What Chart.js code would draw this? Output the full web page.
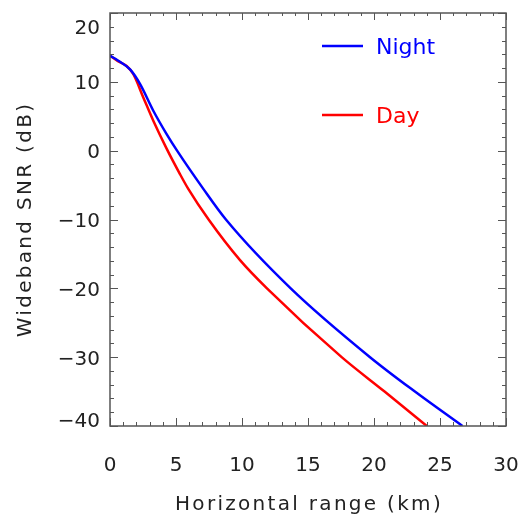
<!DOCTYPE html>
<html>
<head>
<meta charset="utf-8">
<script src="https://cdn.jsdelivr.net/npm/chart.js@4.4.1/dist/chart.umd.min.js"></script>
<style>
  html, body { margin: 0; padding: 0; background: #fff; }
  canvas { display: block; }
</style>
</head>
<body>
<canvas id="snr" width="525" height="516"></canvas>
<script>
// Wideband SNR vs horizontal range
const nightX = [0, 0.6, 1.52, 2.27, 3.28, 4.29, 5.08, 7.07, 8.78, 13.69, 19.7, 23.1, 26.7];
const nightY = [13.8, 13.1, 11.8, 9.7, 5.8, 2.4, 0, -5.55, -10, -20, -30, -35, -40];
const dayX = [0, 0.6, 1.26, 1.77, 2.53, 3.28, 4.29, 5.3, 5.93, 7.47, 9.85, 11.89, 17.55, 20.8, 24.0];
const dayY = [13.8, 13.0, 12.3, 11.1, 7.7, 4.35, 0.3, -3.4, -5.55, -10, -15.9, -20, -30, -35, -40];

const xTicks = [0, 5, 10, 15, 20, 25, 30];
const yTicks = [-40, -30, -20, -10, 0, 10, 20];
const xTickLabels = ['0', '5', '10', '15', '20', '25', '30'];
const yTickLabels = ['\u221240', '\u221230', '\u221220', '\u221210', '0', '10', '20'];

const X_MINOR = 1;
const Y_MINOR = 2;
const AXIS_COLOR = '#555';
const TEXT_COLOR = '#222';
const FONT = '"DejaVu Sans", sans-serif';

const toPoints = (xs, ys) => xs.map((x, i) => ({ x, y: ys[i] }));

// IDL style box: inward ticks on all four sides, labels drawn with the scales
const idlFrame = {
    id: 'idlFrame',
    afterDatasetsDraw(chart) {
        const { ctx, chartArea: a, scales } = chart;
        const sx = scales.x, sy = scales.y;
        ctx.save();
        ctx.strokeStyle = AXIS_COLOR;
        ctx.lineWidth = 1.5;
        ctx.strokeRect(a.left, a.top, a.right - a.left, a.bottom - a.top);

        ctx.beginPath();
        for (let v = sx.min; v <= sx.max; v += X_MINOR) {
            const px = Math.round(sx.getPixelForValue(v)) + 0.5;
            const major = v % 5 === 0;
            ctx.moveTo(px, a.bottom); ctx.lineTo(px, a.bottom - (major ? 8 : 4));
            ctx.moveTo(px, a.top); ctx.lineTo(px, a.top + (major ? 7 : 3));
        }
        for (let v = sy.min; v <= sy.max; v += Y_MINOR) {
            const py = Math.round(sy.getPixelForValue(v)) + 0.5;
            const major = v % 10 === 0;
            ctx.moveTo(a.left, py); ctx.lineTo(a.left + (major ? 8 : 4), py);
            ctx.moveTo(a.right, py); ctx.lineTo(a.right - (major ? 8 : 4), py);
        }
        ctx.lineWidth = 1;
        ctx.stroke();

        ctx.fillStyle = TEXT_COLOR;
        ctx.font = '20px ' + FONT;
        ctx.textBaseline = 'alphabetic';
        ctx.textAlign = 'center';
        xTicks.forEach((v, i) => {
            ctx.fillText(xTickLabels[i], sx.getPixelForValue(v), a.bottom + 45);
        });
        ctx.textAlign = 'right';
        yTicks.forEach((v, i) => {
            let py = sy.getPixelForValue(v);
            if (v === sy.max) py += 13;
            if (v === sy.min) py -= 7;
            ctx.fillText(yTickLabels[i], a.left - 10, py + 7.5);
        });

        // axis titles
        ctx.letterSpacing = '2.3px';
        ctx.textAlign = 'center';
        ctx.fillText('Horizontal range (km)', (a.left + a.right) / 2 + 1, 510);
        ctx.save();
        ctx.translate(31, (a.top + a.bottom) / 2);
        ctx.rotate(-Math.PI / 2);
        ctx.fillText('Wideband SNR (dB)', 0, 0);
        ctx.restore();
        ctx.letterSpacing = '0px';

        // legend in the upper right of the plot
        ctx.font = '22px ' + FONT;
        ctx.textAlign = 'left';
        chart.data.datasets.forEach((ds, i) => {
            const ly = a.top + 33 + i * 69;
            ctx.strokeStyle = ds.borderColor;
            ctx.lineWidth = 2.5;
            ctx.beginPath();
            ctx.moveTo(a.left + 212, ly);
            ctx.lineTo(a.left + 253, ly);
            ctx.stroke();
            ctx.fillStyle = ds.borderColor;
            ctx.fillText(ds.label, a.left + 266, ly + 8);
        });
        ctx.restore();
    }
};

new Chart(document.getElementById('snr'), {
    type: 'line',
    data: {
        datasets: [
            { label: 'Night', data: toPoints(nightX, nightY), borderColor: '#0000ff' },
            { label: 'Day', data: toPoints(dayX, dayY), borderColor: '#ff0000' },
        ],
    },
    options: {
        responsive: false,
        animation: false,
        layout: { padding: { left: 110, right: 19, top: 13, bottom: 90 } },
        elements: {
            line: { borderWidth: 2.5, cubicInterpolationMode: 'monotone', fill: false },
            point: { radius: 0 },
        },
        plugins: { legend: { display: false }, tooltip: { enabled: false } },
        scales: {
            x: { type: 'linear', min: 0, max: 30, display: false },
            y: { type: 'linear', min: -40, max: 20, display: false },
        },
    },
    plugins: [idlFrame],
});
</script>
</body>
</html>
